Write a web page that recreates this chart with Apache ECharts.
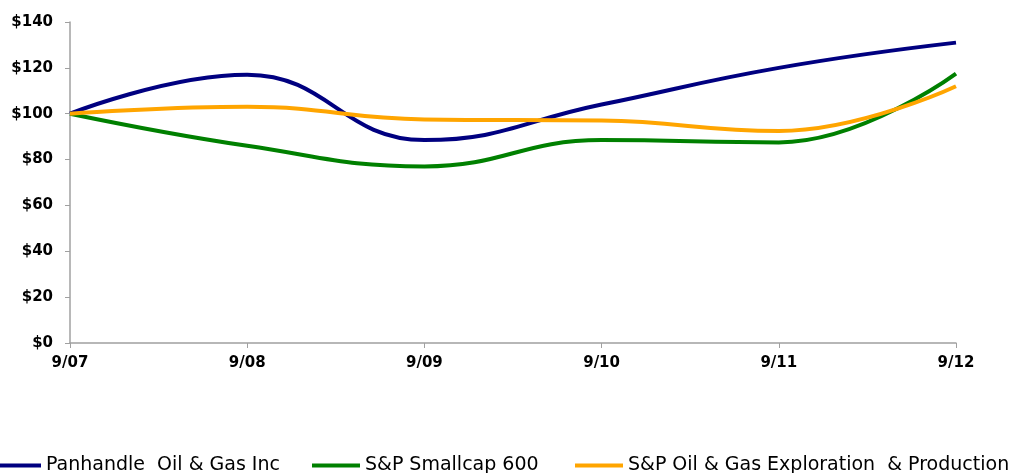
<!DOCTYPE html>
<html><head><meta charset="utf-8">
<script src="https://cdn.jsdelivr.net/npm/echarts@6/dist/echarts.min.js"></script>
<style>html,body{margin:0;padding:0;background:#fff}#c{width:1013px;height:473px}</style>
</head><body><div id="c"></div>
<script>
const categories = ['9/07','9/08','9/09','9/10','9/11','9/12'];
const panhandle = [100, 117, 88.5, 104, 120, 131];
const smallcap = [100, 86, 77, 88.5, 87.5, 117.5];
const oilGasEP = [100, 103, 97.5, 97, 92.5, 112];
const names = ['Panhandle  Oil & Gas Inc', 'S&P Smallcap 600', 'S&P Oil & Gas Exploration  & Production'];
const colors = ['#000080', '#008000', '#FFA500'];

const chart = echarts.init(document.getElementById('c'));
const font = '"DejaVu Sans", sans-serif';
const legendLefts = [-7, 312, 575];
chart.setOption({
  animation: false,
  grid: {left: 70, right: 57, top: 22, bottom: 130, containLabel: false},
  legend: names.map((n, i) => ({
    data: [n], left: legendLefts[i], top: 456, padding: 0, icon: 'rect', itemWidth: 48, itemHeight: 4,
    textStyle: {fontFamily: font, fontSize: 19, color: '#000'}, itemGap: 6
  })),
  xAxis: {
    type: 'category', data: categories, boundaryGap: false,
    axisLine: {lineStyle: {color: '#A0A0A0', width: 1.5}},
    axisTick: {show: true, length: 5, lineStyle: {color: '#A0A0A0'}},
    axisLabel: {fontFamily: font, fontWeight: 'bold', fontSize: 15, color: '#000', margin: 13},
    splitLine: {show: false}
  },
  yAxis: {
    type: 'value', min: 0, max: 140, interval: 20,
    axisLine: {show: true, lineStyle: {color: '#A0A0A0', width: 1.5}},
    axisTick: {show: true, length: 5, lineStyle: {color: '#A0A0A0'}},
    axisLabel: {fontFamily: font, fontWeight: 'bold', fontSize: 15, color: '#000', margin: 17, formatter: v => '$' + v},
    splitLine: {show: false}
  },
  series: [panhandle, smallcap, oilGasEP].map((d, i) => ({
    name: names[i], type: 'line', data: d, smooth: 0.45, symbol: 'none',
    lineStyle: {color: colors[i], width: 4}, itemStyle: {color: colors[i]}
  }))
});
</script></body></html>
